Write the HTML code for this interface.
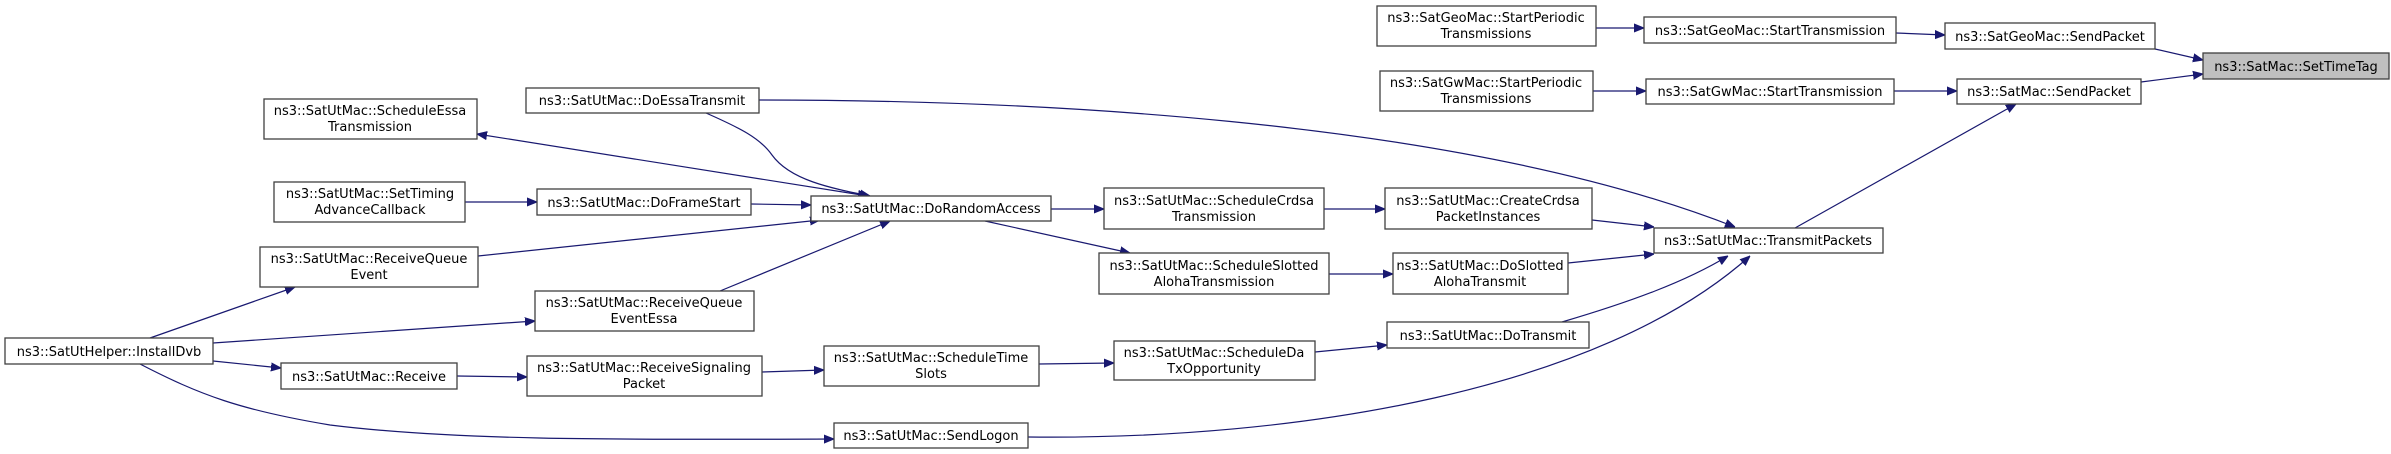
<!DOCTYPE html>
<html><head><meta charset="utf-8"><style>
html,body{margin:0;padding:0;background:#fff;}
svg{display:block;}
text{font-family:"DejaVu Sans","Liberation Sans",sans-serif;font-size:13px;fill:#000;}
.b{fill:#fff;stroke:#404040;stroke-width:1.3;}
.e{fill:none;stroke:#191970;stroke-width:1.2;}
</style></head><body>
<svg width="2391" height="454" viewBox="0 0 2391 454" xmlns="http://www.w3.org/2000/svg">
<defs>
<marker id="a" viewBox="0 0 10 10" refX="10" refY="5" markerWidth="10" markerHeight="10" markerUnits="userSpaceOnUse" orient="auto">
<path d="M0,1 L10,5 L0,9 z" fill="#191970" stroke="#191970"/></marker>
<marker id="s" viewBox="0 0 10 10" refX="0" refY="5" markerWidth="10" markerHeight="10" markerUnits="userSpaceOnUse" orient="auto">
<path d="M10,1 L0,5 L10,9 z" fill="#191970" stroke="#191970"/></marker>
</defs>

<g class="e" marker-end="url(#a)">
<path d="M2155,49 L2203,60"/>
<path d="M2141,82 L2203,74"/>
<path d="M1896,33 L1945,35"/>
<path d="M1894,91 L1957,91"/>
<path d="M1795,228 L2016,104"/>
<path d="M1596,28 L1644,28"/>
<path d="M1593,91 L1646,91"/>
<path d="M759,100 C1000,100 1450,115 1735,227"/>
<path d="M1592,220 L1654,227"/>
<path d="M1568,263 L1654,254"/>
<path d="M1562,322 C1630,302 1685,282 1728,256"/>
<path d="M1028,437 C1300,440 1600,390 1750,256"/>
<path d="M1324,209 L1385,209"/>
<path d="M1329,274 L1393,274"/>
<path d="M1315,352 L1387,345"/>
<path d="M1051,209 L1104,209"/>
<path d="M985,221 L1130,253"/>
<path d="M1039,364 L1114,363"/>
<path d="M706,113 C740,128 760,138 772,155 C790,180 830,188 870,196"/>
<path d="M751,204 L811,205"/>
<path d="M465,202 L537,202"/>
<path d="M478,256 L820,220"/>
<path d="M720,291 L890,221"/>
<path d="M150,338 L295,287"/>
<path d="M213,343 L535,321"/>
<path d="M213,361 L281,368"/>
<path d="M457,376 L527,377"/>
<path d="M762,372 L824,370"/>
<path d="M140,364 C200,395 240,410 330,425 C450,440 600,440 834,439"/>
</g>
<path class="e" d="M477,134 L868,196" marker-start="url(#s)" marker-end="url(#a)"/>

<rect x="2203" y="53" width="186" height="26" fill="#bfbfbf" stroke="#404040" stroke-width="1.3"/>
<text x="2296" y="71" text-anchor="middle">ns3::SatMac::SetTimeTag</text>

<rect class="b" x="1945" y="23" width="210" height="26"/>
<text x="2050" y="41" text-anchor="middle">ns3::SatGeoMac::SendPacket</text>
<rect class="b" x="1957" y="79" width="184" height="25"/>
<text x="2049" y="96" text-anchor="middle">ns3::SatMac::SendPacket</text>
<rect class="b" x="1644" y="17" width="252" height="26"/>
<text x="1770" y="35" text-anchor="middle">ns3::SatGeoMac::StartTransmission</text>
<rect class="b" x="1646" y="79" width="248" height="25"/>
<text x="1770" y="96" text-anchor="middle">ns3::SatGwMac::StartTransmission</text>
<rect class="b" x="1377" y="6" width="219" height="40"/>
<text x="1486" y="22" text-anchor="middle">ns3::SatGeoMac::StartPeriodic</text>
<text x="1486" y="38" text-anchor="middle">Transmissions</text>
<rect class="b" x="1380" y="71" width="213" height="40"/>
<text x="1486" y="87" text-anchor="middle">ns3::SatGwMac::StartPeriodic</text>
<text x="1486" y="103" text-anchor="middle">Transmissions</text>

<rect class="b" x="1654" y="228" width="229" height="25"/>
<text x="1768" y="245" text-anchor="middle">ns3::SatUtMac::TransmitPackets</text>

<rect class="b" x="1385" y="188" width="207" height="41"/>
<text x="1488" y="205" text-anchor="middle">ns3::SatUtMac::CreateCrdsa</text>
<text x="1488" y="221" text-anchor="middle">PacketInstances</text>
<rect class="b" x="1393" y="253" width="175" height="41"/>
<text x="1480" y="270" text-anchor="middle">ns3::SatUtMac::DoSlotted</text>
<text x="1480" y="286" text-anchor="middle">AlohaTransmit</text>
<rect class="b" x="1387" y="322" width="202" height="26"/>
<text x="1488" y="340" text-anchor="middle">ns3::SatUtMac::DoTransmit</text>

<rect class="b" x="1104" y="188" width="220" height="41"/>
<text x="1214" y="205" text-anchor="middle">ns3::SatUtMac::ScheduleCrdsa</text>
<text x="1214" y="221" text-anchor="middle">Transmission</text>
<rect class="b" x="1099" y="253" width="230" height="41"/>
<text x="1214" y="270" text-anchor="middle">ns3::SatUtMac::ScheduleSlotted</text>
<text x="1214" y="286" text-anchor="middle">AlohaTransmission</text>
<rect class="b" x="1114" y="341" width="201" height="39"/>
<text x="1214" y="357" text-anchor="middle">ns3::SatUtMac::ScheduleDa</text>
<text x="1214" y="373" text-anchor="middle">TxOpportunity</text>

<rect class="b" x="811" y="196" width="240" height="25"/>
<text x="931" y="213" text-anchor="middle">ns3::SatUtMac::DoRandomAccess</text>
<rect class="b" x="824" y="346" width="215" height="40"/>
<text x="931" y="362" text-anchor="middle">ns3::SatUtMac::ScheduleTime</text>
<text x="931" y="378" text-anchor="middle">Slots</text>
<rect class="b" x="834" y="423" width="194" height="25"/>
<text x="931" y="440" text-anchor="middle">ns3::SatUtMac::SendLogon</text>

<rect class="b" x="526" y="88" width="233" height="25"/>
<text x="642" y="105" text-anchor="middle">ns3::SatUtMac::DoEssaTransmit</text>
<rect class="b" x="537" y="189" width="214" height="26"/>
<text x="644" y="207" text-anchor="middle">ns3::SatUtMac::DoFrameStart</text>
<rect class="b" x="535" y="291" width="219" height="40"/>
<text x="644" y="307" text-anchor="middle">ns3::SatUtMac::ReceiveQueue</text>
<text x="644" y="323" text-anchor="middle">EventEssa</text>
<rect class="b" x="527" y="356" width="235" height="40"/>
<text x="644" y="372" text-anchor="middle">ns3::SatUtMac::ReceiveSignaling</text>
<text x="644" y="388" text-anchor="middle">Packet</text>

<rect class="b" x="264" y="99" width="213" height="40"/>
<text x="370" y="115" text-anchor="middle">ns3::SatUtMac::ScheduleEssa</text>
<text x="370" y="131" text-anchor="middle">Transmission</text>
<rect class="b" x="274" y="182" width="191" height="40"/>
<text x="370" y="198" text-anchor="middle">ns3::SatUtMac::SetTiming</text>
<text x="370" y="214" text-anchor="middle">AdvanceCallback</text>
<rect class="b" x="260" y="247" width="218" height="40"/>
<text x="369" y="263" text-anchor="middle">ns3::SatUtMac::ReceiveQueue</text>
<text x="369" y="279" text-anchor="middle">Event</text>
<rect class="b" x="281" y="363" width="176" height="26"/>
<text x="369" y="381" text-anchor="middle">ns3::SatUtMac::Receive</text>

<rect class="b" x="5" y="338" width="208" height="26"/>
<text x="109" y="356" text-anchor="middle">ns3::SatUtHelper::InstallDvb</text>
</svg>
</body></html>
